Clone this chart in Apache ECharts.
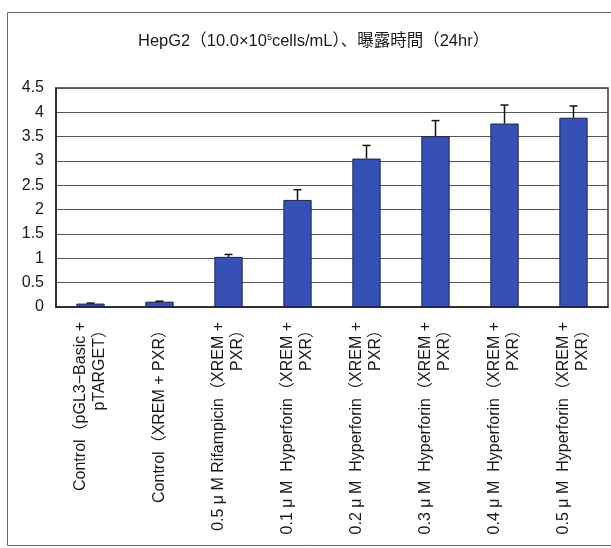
<!DOCTYPE html>
<html>
<head>
<meta charset="utf-8">
<script src="https://cdn.jsdelivr.net/npm/echarts@6/dist/echarts.min.js"></script>
<style>
  html, body { margin: 0; padding: 0; background: #fff; }
  #chart { width: 611px; height: 548px; }
</style>
</head>
<body>
<div id="chart"></div>
<script>
// Treatment groups (two-line labels)
var categories = [
  'Control（pGL3−Basic +\npTARGET）',
  'Control（XREM + PXR）',
  '0.5 μ M Rifampicin（XREM +\nPXR）',
  '0.1 μ M  Hyperforin（XREM +\nPXR）',
  '0.2 μ M  Hyperforin（XREM +\nPXR）',
  '0.3 μ M  Hyperforin（XREM +\nPXR）',
  '0.4 μ M  Hyperforin（XREM +\nPXR）',
  '0.5 μ M  Hyperforin（XREM +\nPXR）'
];
// Mean activity per group
var means = [0.07, 0.11, 1.03, 2.20, 3.05, 3.51, 3.77, 3.89];
// Upper error (SD) per group
var errors = [0.01, 0.01, 0.05, 0.21, 0.27, 0.32, 0.38, 0.24];
// Value axis ticks
var yMin = 0, yMax = 4.5, yStep = 0.5;

var chart = echarts.init(document.getElementById('chart'), null, { renderer: 'canvas' });

var latin = '"Liberation Sans", Arial, "Noto Sans CJK JP", sans-serif';

chart.setOption({
  backgroundColor: '#ffffff',
  animation: false,
  title: {
    text: 'HepG2（10.0×10{sup|5}cells/mL）、曝露時間（24hr）',
    left: 133,
    top: 28,
    textStyle: {
      fontFamily: latin,
      fontSize: 16.5,
      fontWeight: 'normal',
      color: '#1a1a1a',
      rich: {
        sup: { fontSize: 9, verticalAlign: 'top', padding: [0, 0, 7, 0],
               fontFamily: latin, color: '#1a1a1a' }
      }
    }
  },
  graphic: [{
    type: 'rect',
    shape: { x: 7.5, y: 12.5, width: 620, height: 533 },
    style: { fill: 'none', stroke: '#666', lineWidth: 1 },
    silent: true,
    z: -1
  }],
  grid: {
    left: 56, right: 3, top: 88, bottom: 241,
    show: true, borderColor: '#333', borderWidth: 1.5
  },
  xAxis: {
    type: 'category',
    data: categories,
    axisLine: { lineStyle: { color: '#222', width: 1.5 } },
    axisTick: { inside: true, length: 4, lineStyle: { color: '#666' } },
    axisLabel: {
      interval: 0, rotate: 90, margin: 15,
      fontFamily: latin, fontSize: 16, lineHeight: 19, color: '#1a1a1a'
    }
  },
  yAxis: {
    type: 'value',
    min: yMin, max: yMax, interval: yStep,
    axisLine: { show: true, lineStyle: { color: '#222', width: 1.5 } },
    axisTick: { show: false },
    axisLabel: { margin: 12, fontFamily: latin, fontSize: 16, color: '#1a1a1a' },
    splitLine: { lineStyle: { color: '#555', width: 1 } }
  },
  series: [{
    type: 'bar',
    data: means,
    barWidth: '41%',
    itemStyle: { color: '#3551b5', borderColor: '#1c2350', borderWidth: 1 },
    z: 2
  }, {
    type: 'custom',
    data: means.map(function (m, i) { return [i, m, m + errors[i]]; }),
    renderItem: function (params, api) {
      var base = api.coord([api.value(0), api.value(1)]);
      var top = api.coord([api.value(0), api.value(2)]);
      var half = 4;
      return {
        type: 'group',
        children: [{
          type: 'line',
          shape: { x1: base[0], y1: base[1], x2: top[0], y2: top[1] },
          style: { stroke: '#111', lineWidth: 1.5 }
        }, {
          type: 'line',
          shape: { x1: top[0] - half, y1: top[1], x2: top[0] + half, y2: top[1] },
          style: { stroke: '#111', lineWidth: 1.5 }
        }]
      };
    },
    z: 3
  }]
});
</script>
</body>
</html>
